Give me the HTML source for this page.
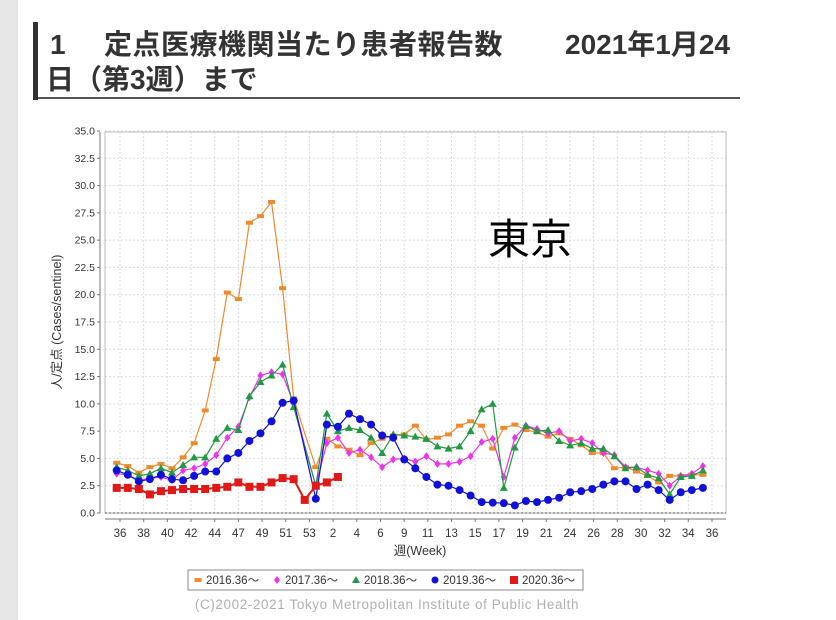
<!DOCTYPE html>
<html><head><meta charset="utf-8"><style>
body{margin:0;width:836px;height:620px;background:#fff;overflow:hidden;position:relative;font-family:"Liberation Sans","Noto Sans CJK JP",sans-serif}
.strip{position:absolute;left:0;top:0;width:18px;height:620px;background:#e6e6e6}
.bar{position:absolute;left:33px;top:22px;width:5px;height:78px;background:#333}
.line{position:absolute;left:38px;top:97px;width:702px;height:2px;background:#555}
.t{position:absolute;font-weight:bold;font-size:28px;color:#333;white-space:pre;line-height:30px}
</style></head><body>
<div class="strip"></div><div class="bar"></div><div class="line"></div>
<div class="t" style="top:30px;left:50px">1</div>
<div class="t" style="top:30px;left:104px;letter-spacing:0.5px">定点医療機関当たり患者報告数</div>
<div class="t" style="top:30px;left:565px">2021年1月24</div>
<div class="t" style="top:65px;left:46px">日（第3週）まで</div>
<svg id="c" width="836" height="620" style="position:absolute;left:0;top:0" xmlns="http://www.w3.org/2000/svg"></svg>
<script>
const s=[];
const X=i=>116.7+i*11.06, Y=v=>513-v*10.914;
for(let k=0;k<=14;k++){const y=Y(k*2.5);s.push(`<line x1="105" x2="726" y1="${y}" y2="${y}" stroke="#ddd" stroke-dasharray="2,2"/>`);}
for(let k=0;k<26;k++){const x=120+k*23.68;s.push(`<line x1="${x}" x2="${x}" y1="132" y2="513" stroke="#ddd" stroke-dasharray="2,2"/>`);}
s.push(`<rect x="105" y="132" width="621" height="381" fill="none" stroke="#bbb"/>`);
s.push(`<line x1="105" x2="726" y1="513" y2="513" stroke="#555" stroke-dasharray="2,2"/>`);
s.push(`<line x1="100" x2="100" y1="132" y2="513" stroke="#777"/>`);
s.push(`<line x1="105" x2="726" y1="519" y2="519" stroke="#777"/>`);
for(let k=0;k<=14;k++){const y=Y(k*2.5);s.push(`<line x1="97" x2="100" y1="${y}" y2="${y}" stroke="#777"/><text x="95" y="${y+3.5}" font-size="10.5" text-anchor="end" fill="#333">${(k*2.5).toFixed(1)}</text>`);}
const labs=[36,38,40,42,44,47,49,51,53,2,4,6,9,11,13,15,17,19,21,24,26,28,30,32,34,36];
labs.forEach((l,k)=>{const x=120+k*23.68;s.push(`<line x1="${x}" x2="${x}" y1="519" y2="522" stroke="#777"/><text x="${x}" y="537" font-size="11.5" text-anchor="middle" fill="#333">${l}</text>`);});
s.push(`<text x="420" y="555" font-size="12.5" text-anchor="middle" fill="#333">週(Week)</text>`);
s.push(`<text transform="translate(61,322) rotate(-90)" font-size="12.5" text-anchor="middle" fill="#333">人/定点 (Cases/sentinel)</text>`);
s.push(`<text x="488" y="254" font-size="42" fill="#000">東京</text>`);
const D={
o:[4.6,4.3,3.7,4.2,4.5,4.1,5.1,6.4,9.4,14.1,20.2,19.6,26.6,27.2,28.5,20.6,10.5,7.3,4.2,6.8,6.1,5.8,5.3,6.4,6.8,7.1,7.2,8.0,6.7,6.9,7.2,8.0,8.4,8.0,5.9,7.8,8.1,7.6,7.4,7.0,7.3,6.8,6.2,5.5,5.5,4.1,4.2,3.8,3.4,2.8,3.4,3.4,3.5,3.5],
m:[3.6,3.5,3.0,3.2,3.3,3.0,3.9,4.1,4.5,5.3,6.9,7.9,10.6,12.6,12.9,12.7,10.0,6.2,2.5,6.4,6.9,5.5,5.8,5.1,4.2,4.9,5.0,4.7,5.2,4.5,4.5,4.7,5.2,6.5,6.8,3.3,6.9,8.0,7.7,7.3,7.5,6.6,6.8,6.4,5.5,5.3,4.2,4.2,3.9,3.6,2.5,3.4,3.6,4.3],
g:[4.2,3.9,3.4,3.6,4.1,3.7,4.4,5.1,5.1,6.8,7.8,7.6,10.7,12.0,12.6,13.6,9.7,6.1,2.5,9.1,7.5,7.8,7.6,6.9,5.5,7.2,7.1,7.0,6.8,6.1,5.9,6.1,7.5,9.5,10.0,2.3,6.0,8.0,7.5,7.6,6.6,6.2,6.4,5.9,5.9,5.2,4.1,4.2,3.5,3.2,1.7,3.3,3.4,3.9],
b:[3.9,3.5,2.9,3.1,3.5,3.1,3.0,3.4,3.8,3.8,5.0,5.5,6.6,7.3,8.4,10.1,10.3,5.8,1.3,8.1,7.9,9.1,8.6,8.1,7.1,6.9,4.9,4.1,3.3,2.6,2.5,2.1,1.6,1.0,0.95,0.9,0.7,1.1,1.0,1.2,1.4,1.9,2.0,2.2,2.6,2.9,2.9,2.2,2.6,2.1,1.2,1.9,2.1,2.3],
r:[2.3,2.3,2.2,1.7,2.0,2.1,2.2,2.2,2.2,2.3,2.4,2.8,2.4,2.4,2.8,3.2,3.1,1.2,2.5,2.8,3.3]};
const C={o:"#f08a30",m:"#ee33ee",g:"#229944",b:"#1010d8",r:"#e01818"};
function mk(k,x,y,c){
 if(k=="o")return `<rect x="${x-3.5}" y="${y-2}" width="7" height="4" fill="${c}"/>`;
 if(k=="m")return `<path d="M${x} ${y-4}L${x+3} ${y}L${x} ${y+4}L${x-3} ${y}Z" fill="${c}"/>`;
 if(k=="g")return `<path d="M${x} ${y-4}L${x+4} ${y+3}L${x-4} ${y+3}Z" fill="${c}"/>`;
 if(k=="b")return `<circle cx="${x}" cy="${y}" r="4" fill="${c}"/>`;
 return `<rect x="${x-4}" y="${y-4}" width="8" height="8" fill="${c}"/>`;}
["o","m","g","b","r"].forEach(k=>{const d=D[k],c=C[k];
 const p=d.map((v,i)=>`${X(i).toFixed(1)},${Y(v).toFixed(1)}`).join(" ");
 s.push(`<polyline points="${p}" fill="none" stroke="${c}" stroke-width="${k=='r'?2:1.2}"/>`);
 d.forEach((v,i)=>{if(k!="r"&&i==17)return;s.push(mk(k,X(i),Y(v),c));});});
s.push(`<rect x="188" y="570" width="395" height="20" fill="#fff" stroke="#888"/>`);
const L=[["o","2016.36～"],["m","2017.36～"],["g","2018.36～"],["b","2019.36～"],["r","2020.36～"]];
L.forEach((e,i)=>{const x=198+i*79;s.push(mk(e[0],x,580,C[e[0]]).replace('r="4"','r="3.5"'));s.push(`<text x="${x+8}" y="584" font-size="11.5" fill="#333">${e[1]}</text>`);});
s.push(`<text x="387" y="609" font-size="13.5" letter-spacing="0.6" text-anchor="middle" fill="#b0b0b0">(C)2002-2021 Tokyo Metropolitan Institute of Public Health</text>`);
document.getElementById("c").innerHTML=s.join("");
</script>
</body></html>
